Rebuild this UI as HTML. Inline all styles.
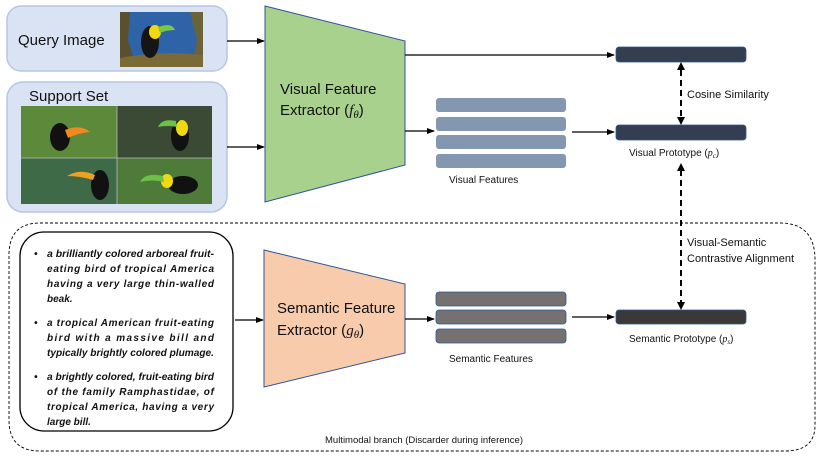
<!DOCTYPE html>
<html><head><meta charset="utf-8"><style>
html,body{margin:0;padding:0;background:#fff}
svg{display:block}
text{font-family:"Liberation Sans",sans-serif}
</style></head><body>
<svg width="822" height="456" viewBox="0 0 822 456" xmlns="http://www.w3.org/2000/svg">
<defs>
<marker id="ah" markerWidth="8" markerHeight="8" refX="7" refY="4" orient="auto" markerUnits="userSpaceOnUse"><path d="M0,1 L8,4 L0,7 z" fill="#000"/></marker>
</defs>
<rect x="7" y="6" width="220" height="65" rx="14" fill="#dae3f3" stroke="#b4c7e7" stroke-width="1.5"/>
<text x="18" y="45" font-size="15" fill="#111">Query Image</text>
<rect x="120" y="12" width="83" height="55" fill="#2f63a8"/>
<path d="M120,12 L130,12 L128,40 L136,67 L120,67z" fill="#5a5030"/>
<path d="M190,12 L203,12 L203,67 L192,67 L197,40z" fill="#6a6238"/>
<path d="M120,58 Q160,50 203,55 L203,67 L120,67z" fill="#7a6a35"/>
<ellipse cx="150" cy="42" rx="9" ry="16" fill="#151515"/>
<ellipse cx="155" cy="32" rx="6" ry="7" fill="#f2d90f"/>
<path d="M158,27 Q172,22 175,30 Q166,30 160,33z" fill="#7ac943"/>
<rect x="7" y="82" width="220" height="130" rx="16" fill="#dae3f3" stroke="#b4c7e7" stroke-width="1.5"/>
<text x="29" y="101" font-size="15" fill="#111">Support Set</text>
<rect x="21" y="106" width="96" height="52" fill="#5d8a3a"/>
<rect x="117" y="106" width="95" height="52" fill="#3a4a35"/>
<rect x="21" y="158" width="96" height="46" fill="#3f6a48"/>
<rect x="117" y="158" width="95" height="46" fill="#4e7a3a"/>
<ellipse cx="60" cy="137" rx="10" ry="14" fill="#111"/><path d="M65,130 Q80,124 90,132 Q78,133 68,138z" fill="#f08a20"/>
<ellipse cx="180" cy="136" rx="9" ry="15" fill="#111"/><ellipse cx="182" cy="128" rx="6" ry="8" fill="#f2d90f"/><path d="M176,121 Q162,118 158,127 Q168,125 177,127z" fill="#6cc04a"/>
<ellipse cx="100" cy="185" rx="9" ry="15" fill="#111"/><path d="M95,175 Q80,168 67,176 Q80,176 93,180z" fill="#f0a020"/>
<ellipse cx="183" cy="185" rx="15" ry="9" fill="#111"/><ellipse cx="167" cy="181" rx="6" ry="7" fill="#f2d90f"/><path d="M163,176 Q145,172 140,182 Q152,179 164,182z" fill="#6cc04a"/>
<line x1="117" y1="106" x2="117" y2="204" stroke="#bbb" stroke-width="0.8"/>
<line x1="21" y1="158" x2="212" y2="158" stroke="#bbb" stroke-width="0.8"/>
<line x1="227" y1="41" x2="264" y2="41" stroke="#000" stroke-width="1.3" marker-end="url(#ah)"/>
<line x1="227" y1="147" x2="264" y2="147" stroke="#000" stroke-width="1.3" marker-end="url(#ah)"/>
<polygon points="265,6 405,41 405,165 265,202" fill="#a9d18e" stroke="#2f5597" stroke-width="1"/>
<text x="280" y="94" font-size="15" fill="#111">Visual Feature</text>
<text x="280" y="115" font-size="15" fill="#111">Extractor (<tspan font-family="Liberation Serif" font-style="italic">f</tspan><tspan font-family="Liberation Serif" font-style="italic" font-size="11" dy="3">θ</tspan><tspan dy="-3">)</tspan></text>
<line x1="405" y1="55" x2="614" y2="55" stroke="#000" stroke-width="1.3" marker-end="url(#ah)"/>
<line x1="405" y1="131" x2="434" y2="131" stroke="#000" stroke-width="1.3" marker-end="url(#ah)"/>
<rect x="436" y="98" width="130" height="14" rx="3" fill="#8497b0"/>
<rect x="436" y="117" width="130" height="14" rx="3" fill="#8497b0"/>
<rect x="436" y="135" width="130" height="14" rx="3" fill="#8497b0"/>
<rect x="436" y="154" width="130" height="14" rx="3" fill="#8497b0"/>
<text x="449" y="183" font-size="10" fill="#111">Visual Features</text>
<line x1="572" y1="132" x2="614" y2="132" stroke="#000" stroke-width="1.3" marker-end="url(#ah)"/>
<rect x="616" y="47" width="130" height="15" rx="3" fill="#333f50" stroke="#2f5597" stroke-width="0.8"/>
<rect x="616" y="125" width="130" height="15" rx="3" fill="#333f50" stroke="#2f5597" stroke-width="0.8"/>
<text x="629" y="156" font-size="10" fill="#111">Visual Prototype (<tspan font-family="Liberation Serif" font-style="italic">p</tspan><tspan font-family="Liberation Serif" font-style="italic" font-size="7" dy="2">c</tspan><tspan dy="-2">)</tspan></text>
<line x1="681" y1="70" x2="681" y2="118" stroke="#000" stroke-width="2" stroke-dasharray="6,4"/>
<path d="M677,70 L681,62 L685,70z" fill="#000"/>
<path d="M677,117 L681,125 L685,117z" fill="#000"/>
<text x="687" y="98" font-size="11" fill="#111">Cosine Similarity</text>
<line x1="681" y1="170" x2="681" y2="302" stroke="#000" stroke-width="2" stroke-dasharray="6,4"/>
<path d="M677,171 L681,163 L685,171z" fill="#000"/>
<path d="M677,302 L681,310 L685,302z" fill="#000"/>
<text x="687" y="246" font-size="11" fill="#111">Visual-Semantic</text>
<text x="687" y="262" font-size="11" fill="#111">Contrastive Alignment</text>
<path d="M40,223 L780,223 Q815,223 815,260 L815,425 Q815,451 785,451 L40,451 Q9,451 9,420 L9,255 Q9,223 40,223z" fill="none" stroke="#000" stroke-width="0.9" stroke-dasharray="3,2"/>
<rect x="20" y="232" width="213" height="199" rx="24" fill="#fff" stroke="#000" stroke-width="1.3"/>
<g font-size="10" font-weight="bold" font-style="italic" fill="#111">
<text x="34" y="257">•</text>
<text x="47" y="257" textLength="167" lengthAdjust="spacingAndGlyphs">a brilliantly colored arboreal fruit-</text>
<text x="47" y="272" textLength="167" lengthAdjust="spacing">eating bird of tropical America</text>
<text x="47" y="287" textLength="167" lengthAdjust="spacing">having a very large thin-walled</text>
<text x="47" y="302">beak.</text>
<text x="34" y="326">•</text>
<text x="47" y="326" textLength="167" lengthAdjust="spacing">a tropical American fruit-eating</text>
<text x="47" y="341" textLength="167" lengthAdjust="spacing">bird with a massive bill and</text>
<text x="47" y="356" textLength="167" lengthAdjust="spacingAndGlyphs">typically brightly colored plumage.</text>
<text x="34" y="380">•</text>
<text x="47" y="380" textLength="167" lengthAdjust="spacingAndGlyphs">a brightly colored, fruit-eating bird</text>
<text x="47" y="395" textLength="167" lengthAdjust="spacing">of the family Ramphastidae, of</text>
<text x="47" y="410" textLength="167" lengthAdjust="spacing">tropical America, having a very</text>
<text x="47" y="425">large bill.</text>
</g>
<line x1="235" y1="320" x2="263" y2="320" stroke="#000" stroke-width="1.3" marker-end="url(#ah)"/>
<polygon points="264,250 405,284 405,353 264,387" fill="#f8cbad" stroke="#2f5597" stroke-width="1"/>
<text x="277" y="313" font-size="15" fill="#111">Semantic Feature</text>
<text x="277" y="335" font-size="15" fill="#111">Extractor (<tspan font-family="Liberation Serif" font-style="italic">g</tspan><tspan font-family="Liberation Serif" font-style="italic" font-size="11" dy="3">θ</tspan><tspan dy="-3">)</tspan></text>
<line x1="405" y1="319" x2="434" y2="319" stroke="#000" stroke-width="1.3" marker-end="url(#ah)"/>
<rect x="436" y="292" width="130" height="14" rx="3" fill="#767171" stroke="#2f5597" stroke-width="0.8"/>
<rect x="436" y="310" width="130" height="14" rx="3" fill="#767171" stroke="#2f5597" stroke-width="0.8"/>
<rect x="436" y="329" width="130" height="14" rx="3" fill="#767171" stroke="#2f5597" stroke-width="0.8"/>
<text x="449" y="362" font-size="10" fill="#111">Semantic Features</text>
<line x1="572" y1="317" x2="614" y2="317" stroke="#000" stroke-width="1.3" marker-end="url(#ah)"/>
<rect x="616" y="310" width="130" height="14" rx="3" fill="#3b3838" stroke="#2f5597" stroke-width="0.8"/>
<text x="629" y="342" font-size="10" fill="#111">Semantic Prototype (<tspan font-family="Liberation Serif" font-style="italic">p</tspan><tspan font-family="Liberation Serif" font-style="italic" font-size="7" dy="2">s</tspan><tspan dy="-2">)</tspan></text>
<text x="325" y="443" font-size="9.5" fill="#111">Multimodal branch (Discarder during inference)</text>
</svg>
</body></html>
